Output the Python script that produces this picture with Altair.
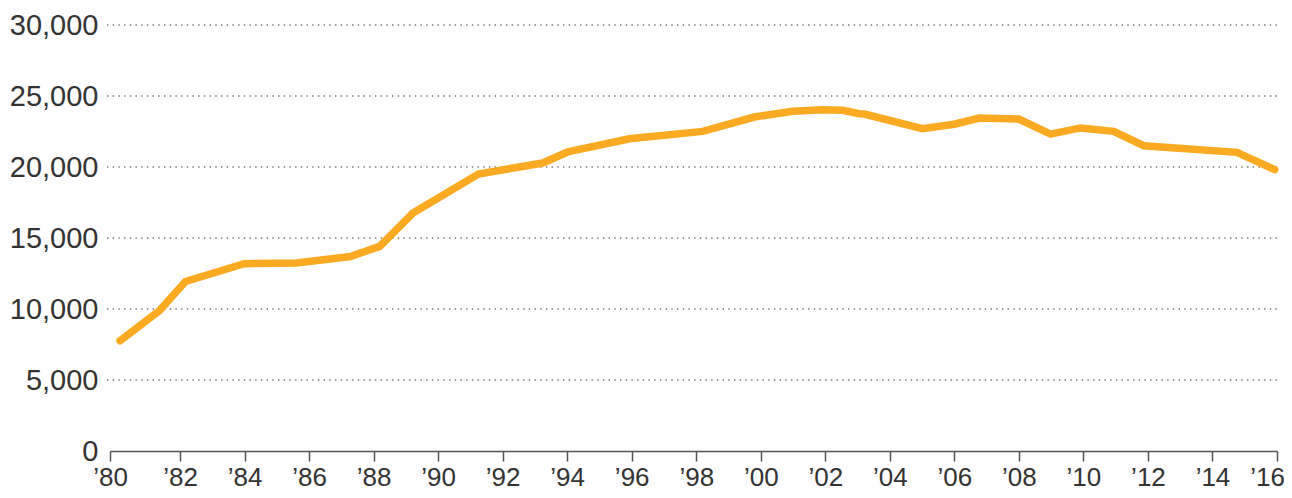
import altair as alt
import pandas as pd

# Data
years = [1980.14, 1981.36, 1982.17, 1983.99, 1985.61, 1987.28, 1988.19, 1989.22,
         1991.25, 1993.24, 1994.02, 1995.93, 1998.20, 1999.80, 2000.99, 2001.92,
         2002.54, 2003.05, 2003.21, 2005.01, 2005.99, 2006.77, 2008.00, 2008.98,
         2009.91, 2010.94, 2011.87, 2014.76, 2015.93]
values = [7770, 9880, 11940, 13190, 13240, 13700, 14410, 16760,
          19510, 20280, 21060, 21990, 22510, 23520, 23920, 24040,
          23990, 23750, 23730, 22700, 23010, 23450, 23380, 22320,
          22750, 22510, 21500, 21030, 19810]

y_ticks = [0, 5000, 10000, 15000, 20000, 25000, 30000]
grid_values = [5000, 10000, 15000, 20000, 25000, 30000]
x_ticks = [1979.83, 1982, 1984, 1986, 1988, 1990, 1992, 1994, 1996, 1998, 2000,
           2002, 2004, 2006, 2008, 2010, 2012, 2014, 2016]

line_df = pd.DataFrame({"year": years, "value": values})
grid_df = pd.DataFrame({"value": grid_values})

W, H = 1167, 426
FONT = "Liberation Sans"

yscale = alt.Scale(domain=[0, 30000], nice=False, zero=True)
xscale = alt.Scale(domain=[1979.83, 2016], nice=False, zero=False)

y_axis = alt.Axis(
    values=y_ticks, format=",d", title=None, grid=False,
    domain=False, ticks=False, labelPadding=12,
    labelFontSize=29, labelFont=FONT, labelColor="#333333",
    labelBaseline="middle",
)

grid = alt.Chart(grid_df).mark_rule(
    color="#777777", strokeWidth=1.3, strokeDash=[1.4, 4.3]
).encode(
    y=alt.Y("value:Q", scale=yscale, axis=y_axis),
    x=alt.value(-3),
    x2=alt.value(W + 1),
)

line = alt.Chart(line_df).mark_line(
    color="#FBAA21", strokeWidth=7.5, strokeCap="round", strokeJoin="miter"
).encode(
    x=alt.X("year:Q", scale=xscale, axis=alt.Axis(
        values=x_ticks,
        labelExpr="'\u2019' + substring(toString(round(datum.value)), 2)",
        title=None, grid=False,
        domainColor="#555555", domainWidth=1.5,
        tickColor="#555555", tickWidth=1.5, tickSize=10,
        labelFontSize=26, labelFont=FONT, labelColor="#333333",
        labelPadding=3, labelFlush=False, labelOverlap=False,
        labelOffset={"condition": {"test": "datum.value > 2015", "value": -10}, "value": 0},
    )),
    y=alt.Y("value:Q", scale=yscale, axis=y_axis),
)

chart = alt.layer(grid, line).properties(
    width=W, height=H,
    autosize="none",
    padding={"left": 102, "top": 17, "right": 7, "bottom": 39},
).configure(
    background="white",
    view=alt.ViewConfig(stroke="transparent", strokeWidth=0),
)

chart.save("out.html", embed_options={"renderer": "svg", "actions": False})
